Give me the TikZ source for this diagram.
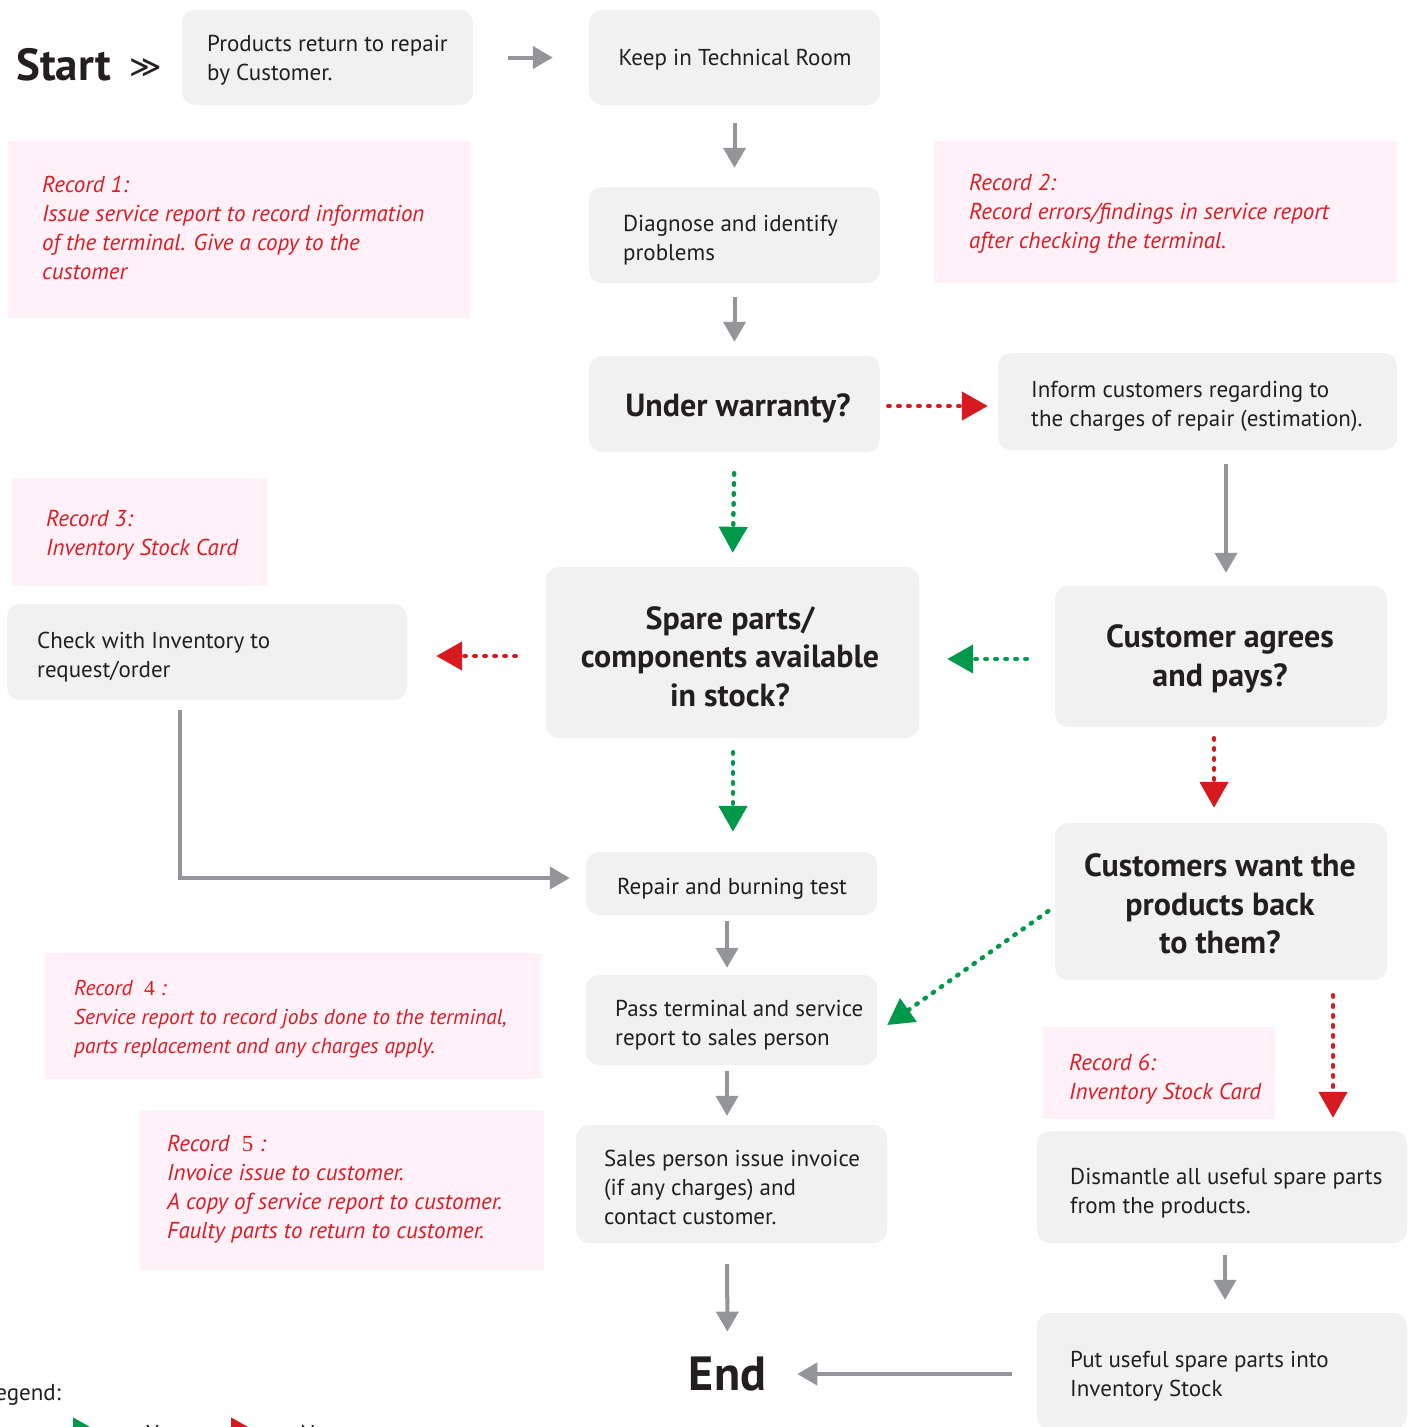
\documentclass[tikz,border=0pt]{standalone}
\usepackage{fontspec}
\setmainfont{PT Sans}
\newfontfamily\digserif{Liberation Serif}
\newfontfamily\symfont{DejaVu Sans}
\usetikzlibrary{arrows.meta,calc}
\definecolor{boxgray}{HTML}{F1F1F2}
\definecolor{ink}{HTML}{231F20}
\definecolor{recred}{HTML}{DA1C25}
\definecolor{pinkfill}{HTML}{FFF1F7}
\definecolor{arrgray}{HTML}{939598}
\definecolor{dred}{HTML}{D71920}
\definecolor{dgreen}{HTML}{00984A}
\newcommand\fnorm{\fontsize{23}{29}\selectfont}
\newcommand\fbig{\fontsize{32}{38.5}\selectfont\bfseries}
\newcommand\frec{\fontsize{23}{29}\selectfont\itshape}
\newcommand\frecsmall{\fontsize{21.5}{29}\selectfont\itshape}
\begin{document}
\begin{tikzpicture}[x=1pt,y=-1pt,
  gbox/.style={rounded corners=13pt, fill=boxgray, inner sep=0pt},
  rbox/.style={fill=pinkfill, inner sep=0pt},
  txt/.style={anchor=west, align=left, inner sep=0pt, text=ink, font=\fnorm},
  txtc/.style={align=center, inner sep=0pt, text=ink, font=\fnorm},
  btxt/.style={align=center, inner sep=0pt, text=ink, font=\fbig},
  rtxt/.style={anchor=west, align=left, inner sep=0pt, text=recred, font=\frec},
  garrow/.style={draw=arrgray, line width=4pt, -{Triangle[length=20pt,width=22pt]}},
  dotg/.style={draw=dgreen, line width=4.5pt, dash pattern=on 1.5pt off 8.5pt, line cap=round, -{Triangle[length=26pt,width=28pt]}},
  dotr/.style={draw=dred, line width=4.5pt, dash pattern=on 1.5pt off 8.5pt, line cap=round, -{Triangle[length=26pt,width=28pt]}}
]
\fill[white] (0,0) rectangle (1408,1427);
\useasboundingbox (0,0) rectangle (1408,1427);

% Start
\node[font=\fontsize{45}{50}\selectfont\bfseries, text=ink, anchor=base west, inner sep=0pt] (start) at (16,80) {Start};
\node[font=\fontsize{31}{40}\selectfont\symfont, text=ink, anchor=base west, inner sep=0pt] (chev) at (129,77) {≫};

% process boxes
\node[gbox, minimum width=291pt, minimum height=95pt] (prod) at (327.5,57.5) {};
\node[gbox, minimum width=291pt, minimum height=95pt] (keep) at (734.5,57.5) {};
\node[gbox, minimum width=291pt, minimum height=96pt] (diag) at (734.5,235) {};
\node[gbox, minimum width=291pt, minimum height=96pt] (under) at (734.5,404) {};
\node[gbox, minimum width=399pt, minimum height=97pt] (inform) at (1197.5,401.5) {};
\node[gbox, minimum width=373pt, minimum height=171pt] (spare) at (732.5,652.5) {};
\node[gbox, minimum width=332pt, minimum height=141pt] (agree) at (1221,656.5) {};
\node[gbox, minimum width=400pt, minimum height=96pt] (check) at (207,652) {};
\node[gbox, minimum width=291pt, minimum height=63pt] (repair) at (731.5,883.5) {};
\node[gbox, minimum width=332pt, minimum height=157pt] (want) at (1221,901.5) {};
\node[gbox, minimum width=291pt, minimum height=90pt] (pass) at (731.5,1020) {};
\node[gbox, minimum width=311pt, minimum height=118pt] (sales) at (731.5,1184) {};
\node[gbox, minimum width=370pt, minimum height=112pt] (dism) at (1222,1187) {};
\node[gbox, minimum width=370pt, minimum height=116pt] (put) at (1222,1371) {};
\node[font=\fontsize{48}{50}\selectfont\bfseries, text=ink, inner sep=0pt] (end) at (727.5,1374) {End};

% texts of process boxes
\node[txt] (prod-t) at (207,60) {Products return to repair\\by Customer.};
\node[txtc] (keep-t) at (735,59.5) {Keep in Technical Room};
\node[txt] (diag-t) at (623,240) {Diagnose and identify\\problems};
\node[btxt] (under-t) at (738,408) {Under warranty?};
\node[txt] (inform-t) at (1031,406) {Inform customers regarding to\\the charges of repair (estimation).};
\node[btxt] (spare-t) at (730,656.5) {Spare parts/\\components available\\in stock?};
\node[btxt] (agree-t) at (1220,659) {Customer agrees\\and pays?};
\node[txt] (check-t) at (37,657) {Check with Inventory to\\request/order};
\node[txtc] (repair-t) at (732,888.5) {Repair and burning test};
\node[btxt] (want-t) at (1220,904) {Customers want the\\products back\\to them?};
\node[txt] (pass-t) at (615,1025) {Pass terminal and service\\report to sales person};
\node[txt] (sales-t) at (604,1187.5) {Sales person issue invoice\\(if any charges) and\\contact customer.};
\node[txt] (dism-t) at (1070,1193) {Dismantle all useful spare parts\\from the products.};
\node[txt] (put-t) at (1070,1376) {Put useful spare parts into\\Inventory Stock};

% record boxes
\node[rbox, minimum width=462pt, minimum height=177pt] (r1) at (239,229.5) {};
\node[rbox, minimum width=463pt, minimum height=142pt] (r2) at (1165.5,212) {};
\node[rbox, minimum width=255pt, minimum height=108pt] (r3) at (139.5,532) {};
\node[rbox, minimum width=496pt, minimum height=126pt] (r4) at (293,1016) {};
\node[rbox, minimum width=405pt, minimum height=160pt] (r5) at (341.5,1190) {};
\node[rbox, minimum width=232pt, minimum height=92pt] (r6) at (1159,1073) {};
\node[rtxt] (r1-t) at (42,227.5) {Record 1:\\Issue service report to record information\\of the terminal. Give a copy to the\\customer};
\node[rtxt] (r2-t) at (969,214) {Record 2:\\Record errors/findings in service report\\after checking the terminal.};
\node[rtxt] (r3-t) at (46,535.5) {Record 3:\\Inventory Stock Card};
\node[rtxt, font=\frecsmall] (r4-t) at (74,1019.5) {Record\ \ {\digserif\upshape 4} :\\Service report to record jobs done to the terminal,\\parts replacement and any charges apply.};
\node[rtxt] (r5-t) at (167,1189) {Record\ \ {\digserif\upshape 5} :\\Invoice issue to customer.\\A copy of service report to customer.\\Faulty parts to return to customer.};
\node[rtxt] (r6-t) at (1069,1079) {Record 6:\\Inventory Stock Card};

% gray connectors
\draw[garrow, shorten <=35pt, shorten >=36pt] (prod.east) -- (keep.west);
\draw[garrow, shorten <=18pt, shorten >=19pt] (keep.south) -- (diag.north);
\draw[garrow, shorten <=14pt, shorten >=14pt] (diag.south) -- (under.north);
\draw[garrow, shorten <=14pt, shorten >=13pt] ([xshift=5pt]agree.north |- inform.south) -- ([xshift=5pt]agree.north);
\draw[garrow, shorten <=10pt, shorten >=16pt] ([xshift=-27pt]check.south) |- ([yshift=5.5pt]repair.west);
\draw[garrow, shorten <=6pt, shorten >=7pt] ([xshift=-4.5pt]repair.south) -- ([xshift=-4.5pt]pass.north);
\draw[garrow, shorten <=6pt, shorten >=9pt] ([xshift=-4.5pt]pass.south) -- ([xshift=-4.5pt]sales.north);
\draw[garrow, shorten <=21pt, shorten >=25pt] ([xshift=-4.5pt]sales.south) -- (end.north);
\draw[garrow, shorten <=25pt, shorten >=31pt] (put.west |- end.east) -- (end.east);
\draw[garrow, shorten <=12pt, shorten >=13pt] ([xshift=3pt]dism.south) -- ([xshift=3pt]put.north);

% dotted decision connectors
\draw[dotr, shorten <=8pt, shorten >=10pt] ([yshift=-2pt]under.east) -- ([yshift=-2pt]under.east -| inform.west);
\draw[dotg, shorten <=21pt, shorten >=14pt] (under.south) -- (spare.north);
\draw[dotr, shorten <=30pt, shorten >=29pt] ([yshift=-3.5pt]spare.west) -- ([yshift=-3.5pt]spare.west -| check.east);
\draw[dotg, shorten <=28pt, shorten >=28pt] ([yshift=-2.5pt]agree.west) -- ([yshift=-2.5pt]agree.west -| spare.east);
\draw[dotg, shorten <=14pt, shorten >=20pt] ([xshift=0.5pt]spare.south) -- ([xshift=0.5pt]spare.south |- repair.north);
\draw[dotr, shorten <=11pt, shorten >=15pt] ([xshift=-7pt]agree.south) -- ([xshift=-7pt]want.north);
\draw[dotg, shorten <=8pt] ([yshift=-5pt]want.west) -- ([yshift=-5pt,xshift=10pt]pass.east);
\draw[dotr, shorten <=15pt, shorten >=13pt] ([xshift=112pt]want.south) -- ([xshift=112pt]want.south |- dism.north);

% legend (cropped at the edges, as in the reference)
\node[font=\fnorm, text=ink, anchor=base east, inner sep=0pt] (legend) at (61,1400) {Legend:};
\coordinate (lg1) at (20,1432);
\coordinate (lg2) at (99,1432);
\coordinate (lr1) at (192,1432);
\coordinate (lr2) at (257,1432);
\draw[dotg] (lg1) -- (lg2);
\draw[dotr] (lr1) -- (lr2);
\node[font=\fnorm, text=ink, anchor=base west, inner sep=0pt] (yes) at (146,1441) {Yes};
\node[font=\fnorm, text=ink, anchor=base west, inner sep=0pt] (no) at (300,1441) {No};
\end{tikzpicture}
\end{document}
